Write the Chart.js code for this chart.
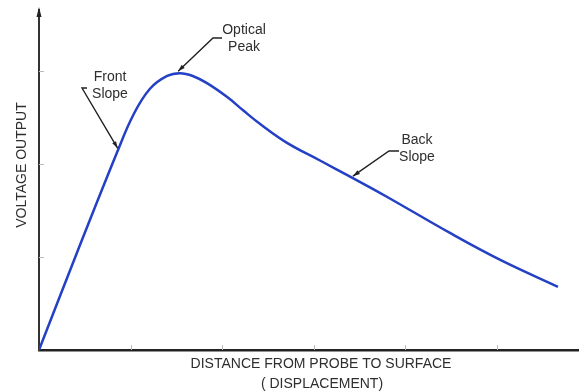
<!DOCTYPE html>
<html>
<head>
<meta charset="utf-8">
<script src="https://cdn.jsdelivr.net/npm/chart.js@4.4.0/dist/chart.umd.min.js"></script>
<style>
    body { margin: 0; background: #fff; }
    #wrap { width: 579px; height: 392px; }
</style>
</head>
<body>
<div id="wrap"><canvas id="probeChart" width="579" height="392"></canvas></div>
<script>
// distance (arbitrary units) vs voltage output (arbitrary units)
const distance = [0, 0.42, 0.85, 1.03, 1.21, 1.40, 1.54, 1.68, 1.84, 2.06, 2.23, 2.42, 2.71, 3.07, 3.43, 3.80, 4.49, 5.04, 5.67];
const voltage  = [0, 1.06, 2.12, 2.53, 2.81, 2.95, 2.98, 2.95, 2.87, 2.72, 2.58, 2.43, 2.23, 2.04, 1.85, 1.65, 1.26, 0.97, 0.68];
const xTicks = [1, 2, 3, 4, 5];
const yTicks = [1, 2, 3];

const FONT = '14px "Liberation Sans", Arial, sans-serif';
const TEXT = '#2e2e2e';

const points = distance.map((d, i) => ({ x: d, y: voltage[i] }));

function arrowHead(ctx, fx, fy, tx, ty) {
    const a = Math.atan2(ty - fy, tx - fx);
    const len = 7, w = 2.2;
    ctx.beginPath();
    ctx.moveTo(tx, ty);
    ctx.lineTo(tx - len * Math.cos(a) + w * Math.sin(a), ty - len * Math.sin(a) - w * Math.cos(a));
    ctx.lineTo(tx - len * Math.cos(a) - w * Math.sin(a), ty - len * Math.sin(a) + w * Math.cos(a));
    ctx.closePath();
    ctx.fill();
}

const decorPlugin = {
    id: 'decor',
    beforeDatasetsDraw(chart) {
        const { ctx, scales: { x, y }, chartArea } = chart;
        ctx.save();
        // small inner ticks
        ctx.strokeStyle = '#bbb';
        ctx.lineWidth = 1;
        xTicks.forEach(v => {
            const px = Math.round(x.getPixelForValue(v)) + 0.5;
            ctx.beginPath();
            ctx.moveTo(px, chartArea.bottom);
            ctx.lineTo(px, chartArea.bottom - 5);
            ctx.stroke();
        });
        yTicks.forEach(v => {
            const py = Math.round(y.getPixelForValue(v)) + 0.5;
            ctx.beginPath();
            ctx.moveTo(chartArea.left, py);
            ctx.lineTo(chartArea.left + 5, py);
            ctx.stroke();
        });
        ctx.restore();
    },
    afterDraw(chart) {
        const { ctx, scales: { x, y }, chartArea } = chart;
        ctx.save();

        // y axis arrow head
        ctx.fillStyle = '#222';
        ctx.beginPath();
        ctx.moveTo(chartArea.left, chartArea.top - 3);
        ctx.lineTo(chartArea.left - 2.5, chartArea.top + 7);
        ctx.lineTo(chartArea.left + 2.5, chartArea.top + 7);
        ctx.closePath();
        ctx.fill();

        // axis titles
        ctx.fillStyle = TEXT;
        ctx.font = FONT;
        ctx.textAlign = 'center';
        ctx.textBaseline = 'middle';
        ctx.fillText('DISTANCE FROM PROBE TO SURFACE', 321, 364);
        ctx.fillText('( DISPLACEMENT)', 322, 384);
        ctx.save();
        ctx.translate(22, 165);
        ctx.rotate(-Math.PI / 2);
        ctx.fillText('VOLTAGE OUTPUT', 0, 0);
        ctx.restore();

        // callouts: label, hook, tip on the curve
        const notes = [
            { lines: ['Front', 'Slope'], tx: 110, ty: 77, hook: [[87, 88], [82, 88]], tip: [0.86, 2.15] },
            { lines: ['Optical', 'Peak'], tx: 244, ty: 30, hook: [[222, 38], [213, 38]], tip: [1.52, 2.98] },
            { lines: ['Back', 'Slope'], tx: 417, ty: 140, hook: [[399, 151], [389, 151]], tip: [3.43, 1.85] }
        ];
        notes.forEach(n => {
            ctx.fillStyle = TEXT;
            n.lines.forEach((t, i) => ctx.fillText(t, n.tx, n.ty + i * 17));
            const tipX = x.getPixelForValue(n.tip[0]);
            const tipY = y.getPixelForValue(n.tip[1]) - 2;
            const [h0, h1] = n.hook;
            ctx.strokeStyle = '#222';
            ctx.fillStyle = '#222';
            ctx.lineWidth = 1.4;
            ctx.beginPath();
            ctx.moveTo(h0[0], h0[1]);
            ctx.lineTo(h1[0], h1[1]);
            ctx.lineTo(tipX, tipY);
            ctx.stroke();
            arrowHead(ctx, h1[0], h1[1], tipX, tipY);
        });
        ctx.restore();
    }
};

new Chart(document.getElementById('probeChart'), {
    type: 'line',
    data: {
        datasets: [{
            data: points,
            borderColor: '#2440c4',
            borderWidth: 2.5,
            pointRadius: 0,
            fill: false,
            tension: 0.4
        }]
    },
    options: {
        responsive: false,
        animation: false,
        layout: { padding: { left: 39, right: 0, top: 10, bottom: 42 } },
        plugins: { legend: { display: false }, tooltip: { enabled: false } },
        scales: {
            x: {
                type: 'linear',
                min: 0,
                max: 5.9,
                ticks: { display: false },
                grid: { display: false, drawTicks: false },
                border: { display: true, color: '#222', width: 2.5 }
            },
            y: {
                type: 'linear',
                min: 0,
                max: 3.66,
                ticks: { display: false },
                grid: { display: false, drawTicks: false },
                border: { display: true, color: '#333', width: 2 }
            }
        }
    },
    plugins: [decorPlugin]
});
</script>
</body>
</html>
